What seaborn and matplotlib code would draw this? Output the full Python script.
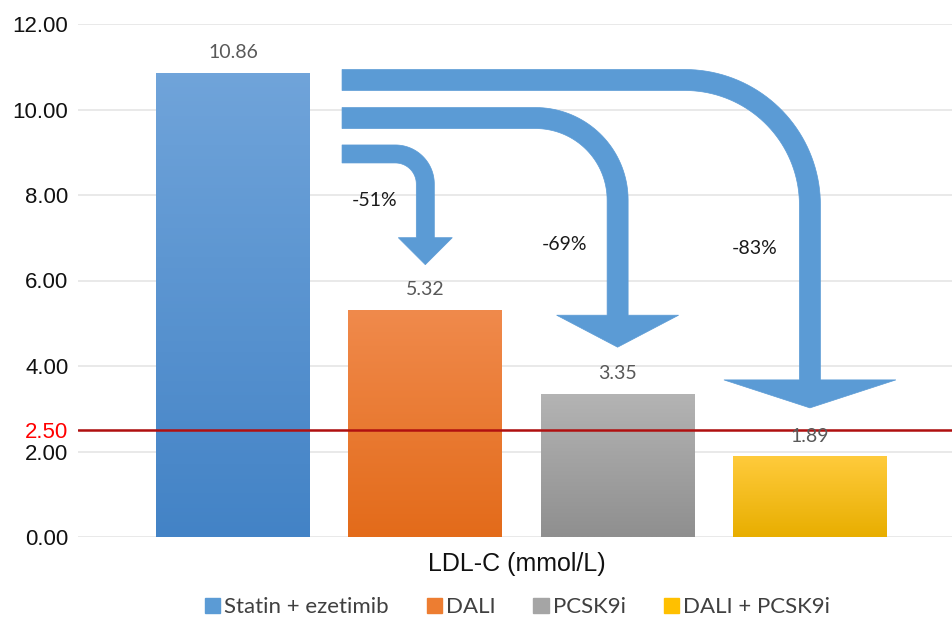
import numpy as np
import pandas as pd
import matplotlib
matplotlib.use("Agg")
import matplotlib.pyplot as plt
import matplotlib.patches as mpatches
import seaborn as sns

# ---- data ----
groups = ["Statin + ezetimib", "DALI", "PCSK9i", "DALI + PCSK9i"]
ldl = [10.86, 5.32, 3.35, 1.89]
reductions = ["-51%", "-69%", "-83%"]
yticks = [0, 2, 4, 6, 8, 10, 12]
target = 2.50
xlabel = "LDL-C (mmol/L)"

legend_colors = ["#5b9bd5", "#ed7d31", "#a5a5a5", "#ffc000"]
grad_top = ["#70a4da", "#f08a4c", "#b4b4b4", "#ffcb3c"]
grad_bot = ["#4383c6", "#e36b1a", "#8f8f8f", "#e8ae00"]

sns.set_theme(style="white")
plt.rcParams["font.family"] = ["Liberation Sans", "DejaVu Sans"]

W, H = 953, 621
fig = plt.figure(figsize=(W / 100, H / 100), dpi=100)
ax = fig.add_axes([78 / W, (H - 537) / H, 1 - 78 / W, 513 / H])

df = pd.DataFrame({"group": groups, "ldl": ldl})
sns.barplot(data=df, x="group", y="ldl", hue="group", palette=legend_colors,
            width=0.8, legend=False, ax=ax, saturation=1, linewidth=0, zorder=2)

# gradient fill clipped to each bar
for i, p in enumerate(ax.patches[:4]):
    x0, y0 = p.get_x(), p.get_y()
    w, h = p.get_width(), p.get_height()
    c1 = np.array(matplotlib.colors.to_rgb(grad_top[i]))
    c2 = np.array(matplotlib.colors.to_rgb(grad_bot[i]))
    t = np.linspace(0, 1, 128)[:, None]
    img = (c1 * (1 - t) + c2 * t)[:, None, :]
    im = ax.imshow(img, extent=[x0, x0 + w, y0, y0 + h], aspect="auto",
                   origin="upper", zorder=3)
    im.set_clip_path(p)
    ax.text(i, ldl[i] + 0.27, f"{ldl[i]:.2f}", ha="center", va="bottom",
            fontsize=14, color="#595959", family=["Lato", "DejaVu Sans"], zorder=5)

ax.set_xlim(-0.806, 3.744)
ax.set_ylim(0, 12)

# grid and ticks
ticks_all = sorted(yticks + [target])
ax.set_yticks(ticks_all)
ax.set_yticklabels([f"{v:.2f}" for v in ticks_all])
ax.yaxis.grid(True, color="#e3e3e3", linewidth=1.1, zorder=0)
ax.set_axisbelow(True)
for lab, v in zip(ax.get_yticklabels(), ticks_all):
    lab.set_fontsize(16)
    lab.set_color("#ff0000" if v == target else "#111111")
ax.tick_params(axis="y", length=0, pad=7)
ax.tick_params(axis="x", length=0, labelbottom=False)
for s in ax.spines.values():
    s.set_visible(False)
ax.axhline(target, color="#b01010", linewidth=1.8, zorder=4)

ax.set_xlabel(xlabel, fontsize=18, color="#111111")
ax.xaxis.set_label_coords(0.502, -0.053)
ax.xaxis.label.set_va("center")
ax.set_ylabel("")

# bent arrows
arrow_start_x = 0.567
arrow_band_y = [8.96, 9.80, 10.69]
arrow_tip_gap = [1.05, 1.09, 1.13]
arrow_w = [18, 21, 21]
arrow_R = [30, 82, 125]
arrow_hw = [27, 61, 86]
arrow_hl = [27, 32, 28]

fig.canvas.draw()
T = ax.transData
Tinv = T.inverted()
for k in range(3):
    tgt = k + 1
    Xt, Yt = T.transform((tgt, ldl[tgt] + arrow_tip_gap[k]))
    Xs, Yc = T.transform((arrow_start_x, arrow_band_y[k]))
    w, R, hw, hl = arrow_w[k], arrow_R[k], arrow_hw[k], arrow_hl[k]
    Xv = Xt
    Yb = Yt + hl
    cx, cy = Xv - R, Yc - R
    pts = [(Xs, Yc + w / 2)]
    ang = np.linspace(np.pi / 2, 0, 40)
    ro = R + w / 2
    pts += [(cx + ro * np.cos(a), cy + ro * np.sin(a)) for a in ang]
    pts += [(Xv + w / 2, Yb), (Xv + hw, Yb), (Xv, Yt), (Xv - hw, Yb), (Xv - w / 2, Yb)]
    ri = R - w / 2
    pts += [(cx + ri * np.cos(a), cy + ri * np.sin(a)) for a in ang[::-1]]
    pts += [(Xs, Yc - w / 2), (Xs, Yc + w / 2)]
    dpts = Tinv.transform(np.array(pts))
    patch = mpatches.Polygon(dpts, closed=True, facecolor="#5b9bd5",
                             edgecolor="#5b9bd5", linewidth=0.5, zorder=6,
                             clip_on=False)
    ax.add_patch(patch)

pct_pos_x = [0.738, 1.726, 2.715]
pct_pos_y = [7.86, 6.85, 6.76]
for k in range(3):
    ax.text(pct_pos_x[k], pct_pos_y[k], reductions[k], ha="center", va="center",
            fontsize=14, color="#1a1a1a", family=["Lato", "DejaVu Sans"], zorder=7)

handles = [mpatches.Patch(color=c, label=g) for c, g in zip(legend_colors, groups)]
leg = fig.legend(handles=handles, loc="center", bbox_to_anchor=(0.543, 0.022),
                 ncol=4, frameon=False, handlelength=0.68, handleheight=0.68,
                 handletextpad=0.2, columnspacing=1.7, borderpad=0,
                 prop={"family": ["Lato", "DejaVu Sans"], "size": 16})
for t in leg.get_texts():
    t.set_color("#404040")

fig.savefig("out.png", dpi=100)
